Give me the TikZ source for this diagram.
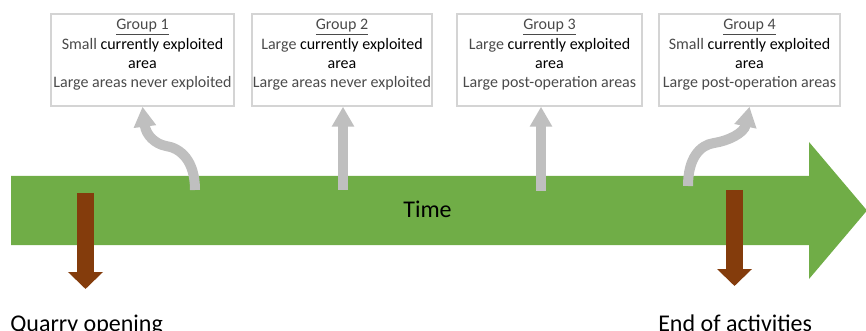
\documentclass[tikz,border=0pt]{standalone}
\usepackage{fontspec}
\setmainfont{Carlito}
\usetikzlibrary{calc,arrows.meta}
\definecolor{timegreen}{HTML}{70AD47}
\definecolor{markbrown}{HTML}{843C0C}
\definecolor{linkgrey}{HTML}{BFBFBF}
\definecolor{boxgrey}{HTML}{D4D4D4}
\definecolor{txtgrey}{HTML}{4A4A4A}

\begin{document}
\begin{tikzpicture}[x=0.75pt,y=-0.75pt,
    grpbox/.style={draw=boxgrey,line width=1.1pt,minimum height=69pt,inner sep=0pt},
    grptext/.style={align=center,inner sep=0pt,font=\fontsize{12}{14.4}\selectfont},
    uplink/.style={linkgrey,line width=7.5pt,-{Triangle[width=16pt,length=15pt]}},
    downmark/.style={markbrown,line width=12.75pt,-{Triangle[width=25.5pt,length=12.75pt]}},
    bigtext/.style={font=\fontsize{18}{21}\selectfont,inner sep=0pt}]
  \useasboundingbox (0,0) rectangle (866,331);
  % time arrow
  \fill[timegreen](11,176)--(809,176)--(809,142)--(867,210.5)--(809,279)--(809,245)--(11,245)--cycle;
  \node[bigtext,anchor=base](time)at(427.5,218){Time};
  \foreach \i/\x/\w/\s/\l in{1/142.5/137.25/Small/areas never exploited,
                              2/342/135/Large/areas never exploited,
                              3/549.5/138.75/Large/post-operation areas,
                              4/749.5/135.75/Small/post-operation areas}{
    \node[grpbox,minimum width=\w pt](g\i)at(\x,60){};
    \node[grptext,anchor=north](t\i)at($(g\i.north)+(0,6)$)
      {\textcolor{txtgrey}{\underline{Group \i}}\\
       \textcolor{txtgrey}{\s} currently exploited\\area\\
       \textcolor{txtgrey}{Large \l}};
  }
  \coordinate(s1)at(195,190);
  \coordinate(s2)at(343,190);
  \coordinate(s3)at(541,191);
  \coordinate(s4)at(688,186);
  \draw[uplink](s1)..controls(195,160)and(180,148)..(166,146)
    ..controls(155,144)and(146,135)..(g1.south);
  \draw[uplink](s2)--(s2 |- g2.south);
  \draw[uplink](s3)--(s3 |- g3.south);
  \draw[uplink](s4)..controls(688,158)and(700,145)..(714,143)
    ..controls(728,141)and(744,133)..(g4.south);
  % start and end
  \coordinate(q1)at(85.5,193);
  \coordinate(q2)at(85.5,289);
  \coordinate(e1)at(734.5,190);
  \coordinate(e2)at(734.5,286);
  \draw[downmark](q1)--(q2);
  \draw[downmark](e1)--(e2);
  \node[bigtext,anchor=base west](quarry)at(10,331){Quarry opening};
  \node[bigtext,anchor=base west](endact)at(658,331){End of activities};
\end{tikzpicture}
\end{document}
